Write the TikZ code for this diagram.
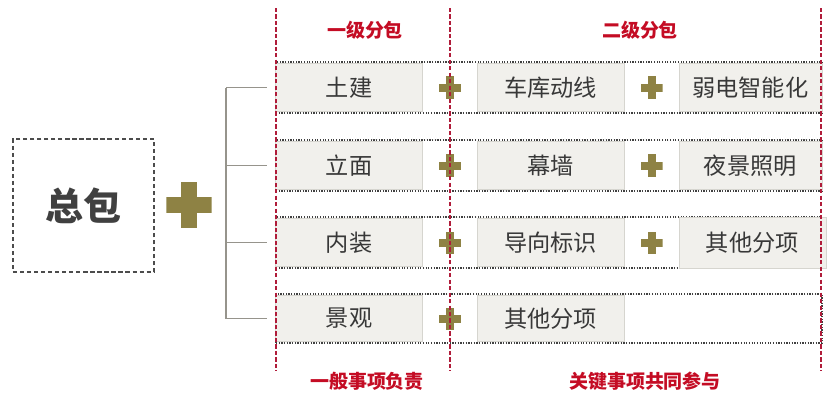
\documentclass[tikz,border=0pt]{standalone}
\usepackage{fontspec}
\setmainfont{Noto Sans CJK SC}
\usepackage{tikz}
\usetikzlibrary{positioning, calc}
\usepackage{xcolor}
\definecolor{LabelRed}{RGB}{196,12,36}
\definecolor{LineRed}{RGB}{176,28,58}
\definecolor{PlusOlive}{RGB}{142,130,68}
\definecolor{BoxFill}{RGB}{241,240,236}
\definecolor{BoxEdge}{RGB}{214,213,207}
\definecolor{TreeGray}{RGB}{150,148,140}

\begin{document}
\begin{tikzpicture}[
  x=0.025cm, y=-0.025cm,
  font=\fontsize{16.5}{20}\selectfont,
  node distance=0cm and 1.35cm,
  frame/.style={draw=black!75, densely dotted, line width=0.9pt, minimum width=13.65cm, minimum height=1.275cm, inner sep=0pt},
  item/.style={draw=BoxEdge, fill=BoxFill, minimum width=3.675cm, minimum height=1.2cm, inner sep=0pt, text=black!78},
  plus/.style 2 args={minimum size=#1, inner sep=0pt, path picture={
    \fill[PlusOlive] ([yshift=-#2]path picture bounding box.west) rectangle ([yshift=#2]path picture bounding box.east);
    \fill[PlusOlive] ([xshift=-#2]path picture bounding box.south) rectangle ([xshift=#2]path picture bounding box.north);}},
  redline/.style={draw=LineRed, line width=1pt, dash pattern=on 3pt off 1.6pt},
  tree/.style={draw=TreeGray, line width=1pt},
  tag/.style={text=LabelRed, font=\fontsize{13.5}{16}\selectfont\bfseries}
]
  \useasboundingbox (0,0) rectangle (840,401);

  \node[draw=black!70, dash pattern=on 3pt off 2pt, line width=1pt, minimum width=3.525cm, minimum height=3.325cm,
        font=\fontsize{27}{30}\selectfont\bfseries, text=black!75] (zb) at (83.5,205.5) {总包};
  \node[plus={1.125cm}{0.19cm}] (bp) at (189,205) {};

  \node[frame] (row1) at (549,87.5) {};
  \node[frame] (row2) at (549,165.5) {};
  \node[frame] (row3) at (549,242.5) {};
  \node[frame, minimum height=1.225cm] (row4) at (549,318.5) {};

  \node[item, anchor=west] (a1) at (row1.west) {土建};
  \node[item, right=of a1] (b1) {车库动线};
  \node[item, right=of b1, minimum width=3.575cm] (c1) {弱电智能化};
  \node[item, anchor=west] (a2) at (row2.west) {立面};
  \node[item, right=of a2] (b2) {幕墙};
  \node[item, right=of b2, minimum width=3.575cm] (c2) {夜景照明};
  \node[item, anchor=west] (a3) at (row3.west) {内装};
  \node[item, right=of a3] (b3) {导向标识};
  \node[item, right=of b3, minimum height=1.275cm] (c3) {其他分项};
  \node[item, anchor=west, minimum height=1.15cm] (a4) at (row4.west) {景观};
  \node[item, right=of a4, minimum height=1.15cm] (b4) {其他分项};

  \foreach \r in {1,2,3,4}
    \node[plus={0.55cm}{0.1cm}] (pa\r) at ($(a\r.east)!.5!(b\r.west)$) {};
  \foreach \r in {1,2,3}
    \node[plus={0.55cm}{0.1cm}] (pb\r) at ($(b\r.east)!.5!(c\r.west)$) {};

  \coordinate (spine) at (226,0);
  \draw[tree] (spine |- row1.west) -- (spine |- row4.west);
  \foreach \r in {1,2,3,4}
    \draw[tree, shorten >=0.2cm] (spine |- row\r.west) -- (row\r.west);

  \coordinate (l1t) at (276,8);
  \coordinate (l1b) at (276,371);
  \coordinate (l2t) at (450,8);
  \coordinate (l2b) at (450,371);
  \coordinate (l3t) at (821,8);
  \coordinate (l3b) at (821,371);
  \draw[redline] (l1t) -- (l1b);
  \draw[redline] (l2t) -- (l2b);
  \draw[redline] (l3t) -- (l3b);

  \node[tag] (t1) at (365,30) {一级分包};
  \node[tag] (t2) at (640,30) {二级分包};
  \node[tag] (t3) at (367,381) {一般事项负责};
  \node[tag] (t4) at (645,381) {关键事项共同参与};
\end{tikzpicture}
\end{document}
